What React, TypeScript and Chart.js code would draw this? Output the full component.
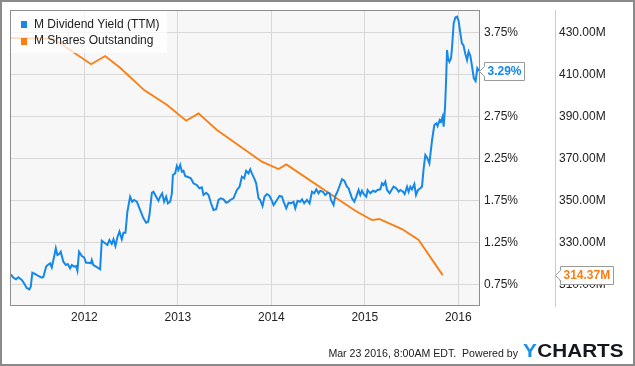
import React, { useEffect, useRef } from "react";
import { Chart, registerables } from "chart.js";

Chart.register(...registerables);

const FONT = 'Arial, "Liberation Sans", sans-serif';

const seriesNames = ["M Dividend Yield (TTM)", "M Shares Outstanding"];
const seriesColors = ["#1688e8", "#fb7d12"];

const yearTicks = [2012, 2013, 2014, 2015, 2016];
const yieldTicks = [0.75, 1.25, 1.75, 2.25, 2.75, 3.25, 3.75];
const sharesTicks = [310, 330, 350, 370, 390, 410, 430];

const footerText = "Mar 23 2016, 8:00AM EDT.  Powered by";
const brandFirst = "Y";
const brandRest = "CHARTS";

// decimal years
const yieldDates = [
  2011.212, 2011.24, 2011.269, 2011.293, 2011.33, 2011.354, 2011.383, 2011.411, 2011.426, 2011.443,
  2011.472, 2011.507, 2011.544, 2011.561, 2011.59, 2011.608, 2011.633, 2011.651, 2011.676, 2011.694,
  2011.711, 2011.732, 2011.747, 2011.775, 2011.801, 2011.822, 2011.847, 2011.865, 2011.89, 2011.911,
  2011.925, 2011.943, 2011.972, 2011.997, 2012.018, 2012.043, 2012.069, 2012.079, 2012.096, 2012.125,
  2012.168, 2012.186, 2012.222, 2012.246, 2012.268, 2012.293, 2012.311, 2012.332, 2012.353, 2012.375,
  2012.4, 2012.418, 2012.439, 2012.46, 2012.489, 2012.511, 2012.532, 2012.561, 2012.596, 2012.632,
  2012.661, 2012.682, 2012.696, 2012.722, 2012.739, 2012.768, 2012.792, 2012.811, 2012.832, 2012.853,
  2012.875, 2012.893, 2012.918, 2012.936, 2012.947, 2012.971, 2012.989, 2013.006, 2013.025, 2013.043,
  2013.06, 2013.078, 2013.114, 2013.139, 2013.167, 2013.203, 2013.231, 2013.257, 2013.274, 2013.303,
  2013.328, 2013.353, 2013.381, 2013.41, 2013.435, 2013.46, 2013.488, 2013.517, 2013.542, 2013.56,
  2013.595, 2013.632, 2013.66, 2013.685, 2013.71, 2013.731, 2013.756, 2013.774, 2013.792, 2013.817,
  2013.838, 2013.863, 2013.881, 2013.906, 2013.927, 2013.953, 2013.981, 2014.006, 2014.024, 2014.06,
  2014.088, 2014.114, 2014.131, 2014.16, 2014.184, 2014.21, 2014.238, 2014.256, 2014.281, 2014.309,
  2014.328, 2014.352, 2014.381, 2014.409, 2014.435, 2014.459, 2014.481, 2014.505, 2014.524, 2014.552,
  2014.577, 2014.602, 2014.623, 2014.638, 2014.666, 2014.684, 2014.702, 2014.73, 2014.756, 2014.781,
  2014.809, 2014.827, 2014.845, 2014.863, 2014.888, 2014.909, 2014.934, 2014.952, 2014.97, 2014.987,
  2015.016, 2015.03, 2015.059, 2015.088, 2015.112, 2015.137, 2015.166, 2015.184, 2015.201, 2015.22,
  2015.238, 2015.266, 2015.291, 2015.308, 2015.337, 2015.362, 2015.38, 2015.409, 2015.426, 2015.452,
  2015.469, 2015.487, 2015.505, 2015.53, 2015.548, 2015.57, 2015.594, 2015.612, 2015.63, 2015.648,
  2015.666, 2015.691, 2015.72, 2015.744, 2015.766, 2015.779, 2015.801, 2015.816, 2015.833, 2015.844,
  2015.859, 2015.87, 2015.88, 2015.891, 2015.905, 2015.923, 2015.934, 2015.951, 2015.969, 2015.987,
  2016.004, 2016.023, 2016.039, 2016.055, 2016.076, 2016.094, 2016.111, 2016.13, 2016.148, 2016.167,
  2016.186, 2016.204, 2016.222,
];

// percent
const yieldValues = [
  0.869, 0.829, 0.81, 0.833, 0.801, 0.762, 0.706, 0.69, 0.721, 0.888,
  0.873, 0.849, 0.829, 0.837, 0.96, 0.98, 1.0, 0.952, 1.079, 1.179,
  1.099, 1.111, 1.138, 1.019, 0.98, 0.992, 0.94, 0.98, 0.96, 0.968,
  0.912, 1.138, 1.087, 1.071, 1.007, 1.007, 1.0, 1.039, 0.98, 0.96,
  0.929, 1.269, 1.238, 1.218, 1.277, 1.23, 1.286, 1.206, 1.31, 1.376,
  1.286, 1.364, 1.364, 1.614, 1.793, 1.733, 1.754, 1.733, 1.635, 1.536,
  1.483, 1.495, 1.575, 1.84, 1.852, 1.793, 1.745, 1.793, 1.833, 1.733,
  1.793, 1.714, 1.733, 1.833, 2.051, 2.071, 2.158, 2.111, 2.17, 2.09,
  2.102, 2.039, 2.024, 2.012, 1.952, 1.932, 1.893, 1.905, 1.813, 1.84,
  1.813, 1.721, 1.635, 1.643, 1.754, 1.774, 1.762, 1.721, 1.733, 1.754,
  1.774, 1.873, 1.912, 2.031, 2.012, 2.102, 2.071, 2.119, 2.071, 2.012,
  1.952, 1.774, 1.754, 1.682, 1.793, 1.825, 1.801, 1.745, 1.694, 1.754,
  1.801, 1.793, 1.733, 1.655, 1.721, 1.714, 1.733, 1.655, 1.745, 1.733,
  1.762, 1.714, 1.754, 1.714, 1.852, 1.833, 1.881, 1.833, 1.864, 1.852,
  1.813, 1.84, 1.833, 1.754, 1.694, 1.801, 1.84, 1.92, 2.0, 1.983,
  1.912, 1.893, 1.833, 1.774, 1.733, 1.793, 1.873, 1.813, 1.864, 1.825,
  1.793, 1.873, 1.833, 1.864, 1.852, 1.873, 1.881, 1.952, 1.932, 1.971,
  1.873, 1.833, 1.881, 1.912, 1.893, 1.852, 1.873, 1.852, 1.825, 1.912,
  1.852, 1.912, 1.881, 1.944, 1.813, 1.873, 1.893, 1.912, 2.131, 2.289,
  2.26, 2.19, 2.468, 2.646, 2.667, 2.635, 2.706, 2.686, 2.745, 2.626,
  2.864, 3.182, 3.539, 3.44, 3.4, 3.44, 3.579, 3.857, 3.926, 3.936,
  3.885, 3.738, 3.619, 3.599, 3.492, 3.42, 3.519, 3.468, 3.34, 3.202,
  3.17, 3.321, 3.29,
];

const sharesDates = [
  2011.204, 2011.429, 2011.665, 2012.072, 2012.222, 2012.382, 2012.639, 2012.885, 2013.089, 2013.221,
  2013.418, 2013.899, 2014.077, 2014.16, 2014.898, 2015.077, 2015.155, 2015.398, 2015.576, 2015.833,
];

// millions
const sharesValues = [
  427.2, 427.1, 427.0, 414.8, 418.7, 413.1, 402.5, 395.4, 387.9, 391.4,
  383.5, 368.4, 364.9, 367.1, 345.0, 340.6, 341.1, 336.3, 331.1, 314.37,
];

const X_MIN = 2011.204;
const X_MAX = 2016.222;
const Y_MIN = 0.4917;
const Y_MAX = 4.0155;
const Y2_MIN = 299.67;
const Y2_MAX = 440.62;

function drawTag(ctx: CanvasRenderingContext2D, tipX: number, y: number, text: string, color: string) {
  ctx.save();
  ctx.font = `bold 12px ${FONT}`;
  const w = Math.round(ctx.measureText(text).width + 6);
  const h = 18;
  const cy = Math.round(y) + 0.5;
  const bx = Math.round(tipX + 4) + 0.5;
  ctx.beginPath();
  ctx.moveTo(tipX, cy);
  ctx.lineTo(bx, cy - 5);
  ctx.lineTo(bx, cy - h / 2);
  ctx.lineTo(bx + w, cy - h / 2);
  ctx.lineTo(bx + w, cy + h / 2);
  ctx.lineTo(bx, cy + h / 2);
  ctx.lineTo(bx, cy + 5);
  ctx.closePath();
  ctx.fillStyle = "#ffffff";
  ctx.fill();
  ctx.strokeStyle = "#9a9a9a";
  ctx.lineWidth = 1;
  ctx.stroke();
  ctx.fillStyle = color;
  ctx.textAlign = "left";
  ctx.textBaseline = "middle";
  ctx.fillText(text, bx + 3, cy + 0.5);
  ctx.restore();
}

const decorPlugin = {
  id: "decor",
  beforeDraw(chart: any) {
    const { ctx, chartArea: a, width, height } = chart;
    ctx.save();
    ctx.fillStyle = "#ffffff";
    ctx.fillRect(0, 0, width, height);
    ctx.fillStyle = "#f7f7f7";
    ctx.fillRect(a.left, a.top, a.right - a.left, a.bottom - a.top);
    ctx.restore();
  },
  afterDraw(chart: any) {
    const { ctx, chartArea: a, width, height } = chart;
    ctx.save();
    // plot border
    ctx.strokeStyle = "#8e8e8e";
    ctx.lineWidth = 1;
    ctx.strokeRect(a.left + 0.5, a.top + 0.5, a.right - a.left, a.bottom - a.top - 1);

    // legend
    ctx.fillStyle = "rgba(255,255,255,0.72)";
    ctx.fillRect(a.left + 1, a.top + 1, 156, 42);
    ctx.font = `12px ${FONT}`;
    ctx.textBaseline = "middle";
    ctx.textAlign = "left";
    seriesNames.forEach((name, i) => {
      const cy = a.top + 14.5 + i * 16.5;
      ctx.fillStyle = seriesColors[i];
      ctx.fillRect(a.left + 11, Math.round(cy - 3.5), 6, 7);
      ctx.fillStyle = "#222";
      ctx.fillText(name, a.left + 24, cy);
    });
    ctx.restore();

    // end tags
    const yS = chart.scales.y;
    const y2S = chart.scales.y2;
    const lastYield = yieldValues[yieldValues.length - 1];
    const lastShares = sharesValues[sharesValues.length - 1];
    drawTag(ctx, a.right + 0.5, yS.getPixelForValue(lastYield), lastYield.toFixed(2) + "%", seriesColors[0]);
    drawTag(ctx, y2S.left + 0.5, y2S.getPixelForValue(lastShares), lastShares.toFixed(2) + "M", seriesColors[1]);

    // footer
    ctx.save();
    ctx.font = `10.6px ${FONT}`;
    ctx.fillStyle = "#222";
    ctx.textAlign = "right";
    ctx.textBaseline = "alphabetic";
    ctx.fillText(footerText, 518, 356.5);
    ctx.font = `bold 18.5px ${FONT}`;
    const wAll = ctx.measureText(brandFirst + brandRest).width;
    const sx = 100 / wAll;
    ctx.translate(523, 356.7);
    ctx.scale(sx, 1);
    ctx.textAlign = "left";
    ctx.fillStyle = "#1a8fe8";
    ctx.fillText(brandFirst, 0, 0);
    const wY = ctx.measureText(brandFirst).width;
    ctx.fillStyle = "#111820";
    ctx.fillText(brandRest, wY + 0.5, 0);
    ctx.restore();

    // outer border
    ctx.save();
    ctx.strokeStyle = "#8a8a8a";
    ctx.lineWidth = 2;
    ctx.strokeRect(1, 1, width - 2, height - 2);
    ctx.restore();
  },
};

export default function App() {
  const canvasRef = useRef<HTMLCanvasElement | null>(null);

  useEffect(() => {
    document.body.style.margin = "0";
    const canvas = canvasRef.current;
    if (!canvas) return;
    Chart.defaults.font.family = FONT;

    const chart = new Chart(canvas, {
      type: "line",
      data: {
        datasets: [
          {
            label: seriesNames[0],
            data: yieldDates.map((d, i) => ({ x: d, y: yieldValues[i] })),
            yAxisID: "y",
            borderColor: seriesColors[0],
            borderWidth: 2,
            pointRadius: 0,
            tension: 0,
            fill: false,
          },
          {
            label: seriesNames[1],
            data: sharesDates.map((d, i) => ({ x: d, y: sharesValues[i] })),
            yAxisID: "y2",
            borderColor: seriesColors[1],
            borderWidth: 1.8,
            pointRadius: 0,
            tension: 0,
            fill: false,
          },
        ],
      },
      options: {
        animation: false,
        responsive: false,
        devicePixelRatio: 1,
        layout: { padding: { left: 10, top: 10, right: 0, bottom: 30 } },
        plugins: {
          legend: { display: false },
          tooltip: { enabled: false },
        },
        scales: {
          x: {
            type: "linear",
            min: X_MIN,
            max: X_MAX,
            afterBuildTicks: (s: any) => {
              s.ticks = yearTicks.map((v) => ({ value: v }));
            },
            afterFit: (s: any) => {
              s.height = 30;
              s.paddingLeft = 0;
              s.paddingRight = 0;
            },
            ticks: {
              callback: (v: any) => String(v),
              color: "#222",
              font: { size: 12 },
              padding: 4,
              maxRotation: 0,
              autoSkip: false,
            },
            grid: { color: "#d8d8d8", drawTicks: false, lineWidth: 1 },
            border: { display: false },
          },
          y: {
            type: "linear",
            position: "right",
            weight: 0,
            min: Y_MIN,
            max: Y_MAX,
            afterBuildTicks: (s: any) => {
              s.ticks = yieldTicks.map((v) => ({ value: v }));
            },
            afterFit: (s: any) => {
              s.width = 76;
              s.paddingTop = 0;
              s.paddingBottom = 0;
            },
            ticks: {
              callback: (v: any) => Number(v).toFixed(2) + "%",
              color: "#222",
              font: { size: 12 },
              padding: 5,
            },
            grid: { color: "#d8d8d8", drawTicks: false, lineWidth: 1 },
            border: { display: false },
          },
          y2: {
            type: "linear",
            position: "right",
            weight: 1,
            min: Y2_MIN,
            max: Y2_MAX,
            afterBuildTicks: (s: any) => {
              s.ticks = sharesTicks.map((v) => ({ value: v }));
            },
            afterFit: (s: any) => {
              s.width = 80;
              s.paddingTop = 0;
              s.paddingBottom = 0;
            },
            ticks: {
              callback: (v: any) => Number(v).toFixed(2) + "M",
              color: "#222",
              font: { size: 12 },
              padding: 4,
            },
            grid: { drawOnChartArea: false, drawTicks: false },
            border: { display: true, color: "#cccccc", width: 1 },
          },
        },
      },
      plugins: [decorPlugin],
    } as any);

    return () => chart.destroy();
  }, []);

  return (
    <div style={{ width: 635, height: 366, position: "relative" }}>
      <canvas ref={canvasRef} width={635} height={366} style={{ width: 635, height: 366, display: "block" }} />
    </div>
  );
}
